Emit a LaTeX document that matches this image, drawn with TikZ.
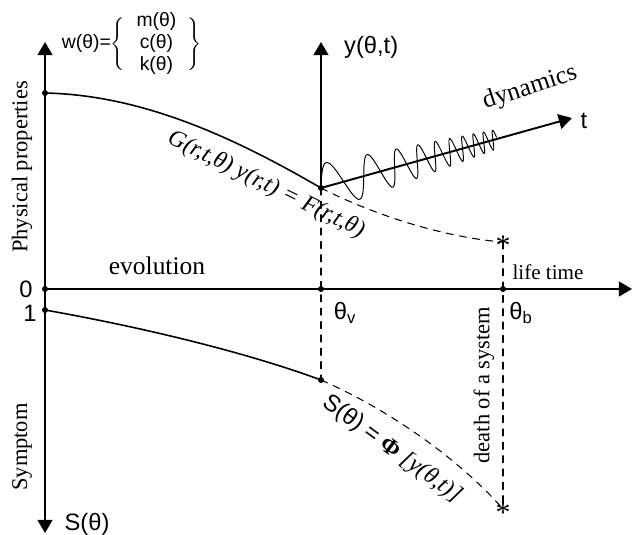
\documentclass[tikz,border=0pt]{standalone}
\usepackage{fontspec}
\setmainfont{Liberation Serif}
\setsansfont{Liberation Sans}
\usetikzlibrary{arrows.meta}

\begin{document}
\begin{tikzpicture}[x=0.02cm,y=-0.02cm,line cap=round,line join=round,
  >={Triangle[length=7.5pt,width=8.5pt]},
  axis/.style={line width=1.1pt},
  curve/.style={line width=0.9pt},
  guide/.style={line width=0.6pt,dash pattern=on 4pt off 3.6pt},
  wave/.style={line width=0.55pt},
  sanslbl/.style={font=\sffamily\fontsize{13.5}{15}\selectfont},
  seriflbl/.style={font=\fontsize{14.5}{16}\selectfont},
  sidelbl/.style={font=\fontsize{12.8}{15}\selectfont,rotate=90},
  eqlbl/.style={font=\itshape\fontsize{13.5}{15}\selectfont},
  declare function={wav(\s)=(24-8*\s)*sin(360*(2.07*\s+0.932*\s^3));}]
\useasboundingbox (0,0) rectangle (637,535);
% points of the diagram (pixel grid, y down)
\coordinate (top) at (45,42);
\coordinate (bot) at (45,533);
\coordinate (O) at (45,289);
\coordinate (xend) at (632,289);
\coordinate (P0) at (45,93);
\coordinate (S1) at (45,310);
\coordinate (V) at (321,188);
\coordinate (Vy) at (321,42);
\coordinate (Vt) at (572,118);
\coordinate (Vb) at (321,289);
\coordinate (Vs) at (321,380);
\coordinate (B) at (503,242);
\coordinate (Bb) at (503,289);
\coordinate (Bs) at (503,509);

% axes
\draw[axis,<->] (top) -- (bot);
\draw[axis,->] (O) -- (xend);
\draw[axis,->] (V) -- (Vy);
\draw[axis,->] (V) -- (Vt);

% evolution curves
\draw[curve] (P0) .. controls (140,95) and (230,135) .. (V);
\draw[curve] (S1) .. controls (130,325) and (240,350) .. (Vs);
\draw[guide] (V) .. controls (380,218) and (450,238) .. (B);
\draw[guide] (Vs) .. controls (390,410) and (460,460) .. (Bs);
\draw[guide] (V) -- (Vs);
\draw[guide] (B) -- (Bs);

% dynamics
\draw[wave] plot[domain=0:1.83,samples=500]
  ({321+96.3*\x-0.269*wav(\x)},{188-26.9*\x-0.963*wav(\x)});

\foreach \p in {P0,O,S1,Vb,Bb,V,Vs}
  \fill (\p) circle (3);

% labels
\node[font=\fontsize{17}{17}\selectfont,inner sep=0pt,yshift=-2.2pt] (starTop) at (B) {*};
\node[font=\fontsize{17}{17}\selectfont,inner sep=0pt,yshift=-2.2pt] (starBot) at (Bs) {*};
\node[font=\sffamily\fontsize{11}{12}\selectfont] (lblW) at (132,44)
  {w(θ)=$\Bigg\{\vcenter{\hbox{\sffamily\fontsize{11}{12.5}\selectfont\begin{tabular}{@{\hspace{0.6em}}c@{\hspace{0.6em}}}m(θ)\\c(θ)\\k(θ)\end{tabular}}}\Bigg\}$};
\node[sanslbl,anchor=west] (lblY) at (338,47) {y(θ,t)};
\node[sanslbl] (lblT) at (584,121) {t};
\node[seriflbl,rotate=18] (lblDyn) at (530,88) {dynamics};
\node[eqlbl,rotate=-26] (lblGov) at (266,185) {G(r,t,θ) y(r,t) = F(r,t,θ)};
\node[sidelbl] (lblPhys) at (22,167) {Physical properties};
\node[sidelbl] (lblSym) at (22,447) {Symptom};
\node[seriflbl] (lblEvo) at (157,266) {evolution};
\node[font=\fontsize{12}{14}\selectfont] (lblLife) at (548,272) {life time};
\node[sanslbl] (lblTheta) at (643,266) {θ};
\node[sanslbl] (lblZero) at (26,289) {0};
\node[sanslbl] (lblOne) at (30,313) {1};
\node[sanslbl] (lblThv) at (345,313) {θ\textsubscript{v}};
\node[sanslbl] (lblThb) at (521,313) {θ\textsubscript{b}};
\node[sidelbl] (lblDeath) at (484,385) {death of a system};
\node[eqlbl,rotate=-36] (lblSymp) at (392,449) {\textsf{\upshape S(θ) =} {\upshape\bfseries Φ} [y(θ,t)]};
\node[sanslbl] (lblS) at (87,524) {S(θ)};
\end{tikzpicture}
\end{document}
